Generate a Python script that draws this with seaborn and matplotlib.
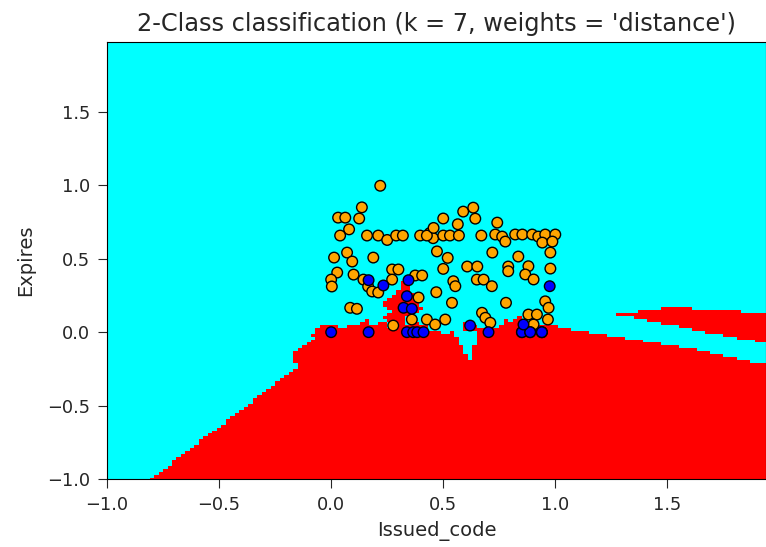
import numpy as np
import pandas as pd
import matplotlib
matplotlib.use("Agg")
import matplotlib.pyplot as plt
from matplotlib.colors import ListedColormap
import seaborn as sns

# ---- data ----
orange_x = [0.219, 0.137, 0.031, 0.063, 0.125, 0.08, 0.04, 0.16, 0.21, 0.25, 0.29, 0.32,
            0.397, 0.44, 0.455, 0.50, 0.50, 0.53, 0.565, 0.57, 0.589, 0.634, 0.643, 0.67,
            0.741, 0.732, 0.763, 0.777, 0.821, 0.853, 0.897, 0.924, 0.955, 1.0, 0.942, 0.987,
            0.013, 0.071, 0.188, 0.094, 0.472, 0.52, 0.50, 0.607, 0.652, 0.719, 0.79, 0.835,
            0.88, 0.978, 0.978, 0.027, 0.0, 0.003, 0.10, 0.144, 0.165, 0.183, 0.21, 0.272,
            0.30, 0.272, 0.375, 0.406, 0.39, 0.469, 0.539, 0.545, 0.554, 0.65, 0.68, 0.717,
            0.673, 0.688, 0.71, 0.78, 0.866, 0.903, 0.955, 0.97, 0.967, 0.88, 0.918, 0.903,
            0.085, 0.115, 0.277, 0.36, 0.427, 0.464, 0.509, 0.427, 0.457, 0.79]
orange_y = [0.997, 0.85, 0.78, 0.78, 0.774, 0.70, 0.658, 0.658, 0.658, 0.628, 0.658, 0.658,
            0.658, 0.675, 0.64, 0.774, 0.658, 0.658, 0.735, 0.658, 0.821, 0.848, 0.773, 0.658,
            0.746, 0.665, 0.651, 0.617, 0.665, 0.665, 0.665, 0.651, 0.665, 0.665, 0.61, 0.617,
            0.508, 0.542, 0.508, 0.481, 0.55, 0.506, 0.431, 0.447, 0.447, 0.542, 0.447, 0.515,
            0.449, 0.542, 0.433, 0.406, 0.358, 0.311, 0.392, 0.358, 0.311, 0.277, 0.27, 0.427,
            0.427, 0.358, 0.386, 0.386, 0.236, 0.272, 0.20, 0.347, 0.313, 0.358, 0.358, 0.313,
            0.132, 0.098, 0.064, 0.20, 0.393, 0.359, 0.21, 0.166, 0.086, 0.12, 0.12, 0.052,
            0.166, 0.159, 0.045, 0.086, 0.086, 0.052, 0.086, 0.658, 0.71, 0.415]
blue_x = [0.0, 0.167, 0.338, 0.366, 0.384, 0.412, 0.338, 0.323, 0.36, 0.167, 0.233, 0.345,
          0.62, 0.702, 0.975, 0.851, 0.851, 0.888, 0.888, 0.94, 0.94, 0.94, 0.858]
blue_y = [0.0, 0.0, 0.0, 0.0, 0.0, 0.0, 0.245, 0.166, 0.159, 0.354, 0.318, 0.354,
          0.045, 0.0, 0.313, 0.0, 0.0, 0.0, 0.0, 0.0, 0.0, 0.0, 0.052]
class_names = ["0", "1"]
n_neighbors = 7

df = pd.DataFrame({
    "Issued_code": orange_x + blue_x,
    "Expires": orange_y + blue_y,
    "cls": [class_names[0]] * len(orange_x) + [class_names[1]] * len(blue_x),
})
X = df[["Issued_code", "Expires"]].to_numpy()
yl = (df["cls"] == class_names[1]).astype(int).to_numpy()

# ---- k-NN (distance weights) decision surface ----
h = 0.02
x_min, x_max = X[:, 0].min() - 1, X[:, 0].max() + 1
y_min, y_max = X[:, 1].min() - 1, X[:, 1].max() + 1
xx, yy = np.meshgrid(np.arange(x_min, x_max, h), np.arange(y_min, y_max, h))
grid = np.c_[xx.ravel(), yy.ravel()]
d = np.sqrt(((grid[:, None, :] - X[None, :, :]) ** 2).sum(-1))
idx = np.argsort(d, axis=1, kind="stable")[:, :n_neighbors]
dk = np.take_along_axis(d, idx, axis=1)
lk = yl[idx]
with np.errstate(divide="ignore"):
    w = 1.0 / dk
zero = np.isinf(w)
rows = zero.any(axis=1)
w[rows] = zero[rows].astype(float)
score1 = (w * (lk == 1)).sum(1)
score0 = (w * (lk == 0)).sum(1)
Z = (score1 > score0).astype(int).reshape(xx.shape)

# ---- figure ----
fig = plt.figure(figsize=(7.66, 5.47), dpi=100)
ax = fig.add_axes([0.1397, 0.1243, 0.8603, 0.7989])
ax.pcolormesh(xx, yy, Z, cmap=ListedColormap(["cyan", "red"]), shading="nearest")
sns.scatterplot(data=df, x="Issued_code", y="Expires", hue="cls",
                palette={class_names[0]: "orange", class_names[1]: "blue"},
                edgecolor="black", linewidth=1.0, s=58, legend=False, ax=ax)
ax.set_xlim(x_min, 1.94)
ax.set_ylim(y_min, 1.976)
ax.set_xticks([-1.0, -0.5, 0.0, 0.5, 1.0, 1.5])
ax.set_yticks([-1.0, -0.5, 0.0, 0.5, 1.0, 1.5])
ax.tick_params(labelsize=12.8, colors="#262626", length=6.5, pad=5.5)
ax.set_xlabel("Issued_code", fontsize=14, color="#262626", labelpad=5)
ax.set_ylabel("Expires", fontsize=14, color="#262626", labelpad=9)
ax.set_title("2-Class classification (k = %i, weights = '%s')" % (n_neighbors, "distance"),
             fontsize=17.3, color="#262626", pad=8)
fig.savefig("out.png", dpi=100)
